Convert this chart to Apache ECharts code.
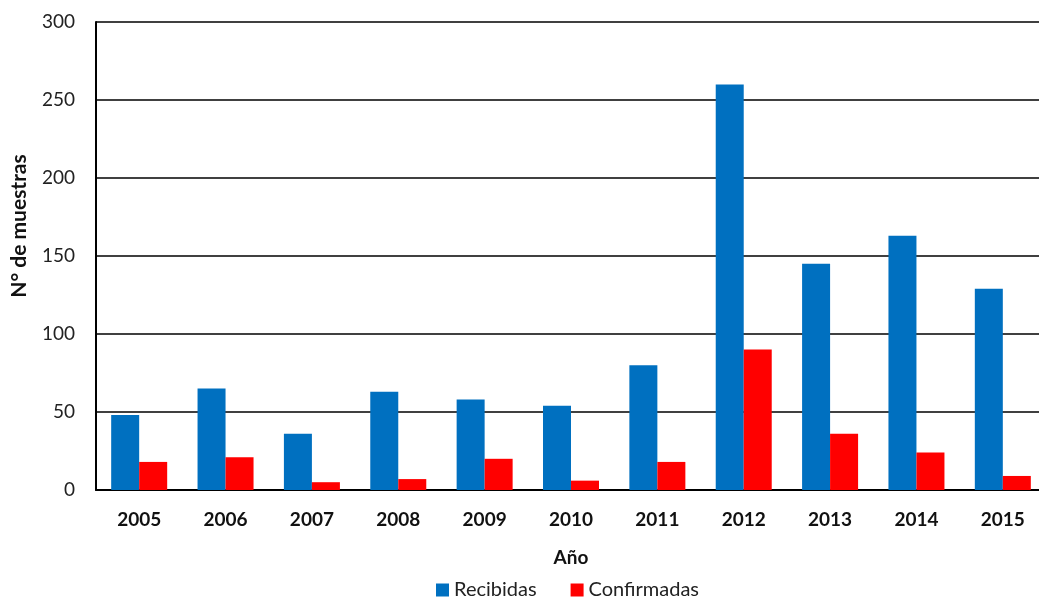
<!DOCTYPE html>
<html>
<head>
<meta charset="utf-8">
<script src="https://cdn.jsdelivr.net/npm/echarts@6/dist/echarts.min.js"></script>
<style>
  html, body { margin: 0; padding: 0; background: #fff; overflow: hidden; }
  #chart { width: 1046px; height: 600px; }
</style>
</head>
<body>
<div id="chart"></div>
<script>
// datos
var years = ['2005', '2006', '2007', '2008', '2009', '2010', '2011', '2012', '2013', '2014', '2015'];
var recibidas = [48, 65, 36, 63, 58, 54, 80, 260, 145, 163, 129];
var confirmadas = [18, 21, 5, 7, 20, 6, 18, 90, 36, 24, 9];

var font = 'Lato, "Open Sans", sans-serif';
var myChart = echarts.init(document.getElementById('chart'));
var option = {
    animation: false,
    textStyle: { fontFamily: font },
    grid: { left: 96, right: 0, top: 22, bottom: 110, containLabel: false },
    legend: {
        bottom: -5,
        left: 431,
        itemWidth: 13,
        itemHeight: 13,
        itemGap: 34,
        icon: 'rect',
        textStyle: { fontSize: 20, color: '#222', fontFamily: font },
        data: ['Recibidas', 'Confirmadas']
    },
    xAxis: {
        type: 'category',
        data: years,
        name: 'Año',
        nameLocation: 'middle',
        nameGap: 58,
        nameTextStyle: { fontSize: 19, fontWeight: 'bold', color: '#111', fontFamily: font },
        axisLine: { lineStyle: { color: '#000', width: 2 } },
        axisTick: { show: false },
        axisLabel: { fontSize: 19, fontWeight: 'bold', color: '#111', margin: 20, fontFamily: font },
        splitLine: { show: false }
    },
    yAxis: {
        type: 'value',
        min: 0,
        max: 300,
        interval: 50,
        name: 'N° de muestras',
        nameLocation: 'middle',
        nameGap: 66,
        nameTextStyle: { fontSize: 21, fontWeight: 'bold', color: '#111', fontFamily: font, padding: [0, 0, 0, 60] },
        axisLine: { show: true, lineStyle: { color: '#000', width: 2 } },
        axisTick: { show: false },
        axisLabel: { fontSize: 19, color: '#222', margin: 21, fontFamily: font },
        splitLine: { lineStyle: { color: '#000', width: 1.5 } }
    },
    series: [{
        name: 'Recibidas',
        type: 'bar',
        data: recibidas,
        barWidth: 28,
        barGap: '0%',
        itemStyle: { color: '#0070C0' }
    }, {
        name: 'Confirmadas',
        type: 'bar',
        data: confirmadas,
        barWidth: 28,
        barGap: '0%',
        itemStyle: { color: '#FF0000' }
    }]
};
myChart.setOption(option);
</script>
</body>
</html>
